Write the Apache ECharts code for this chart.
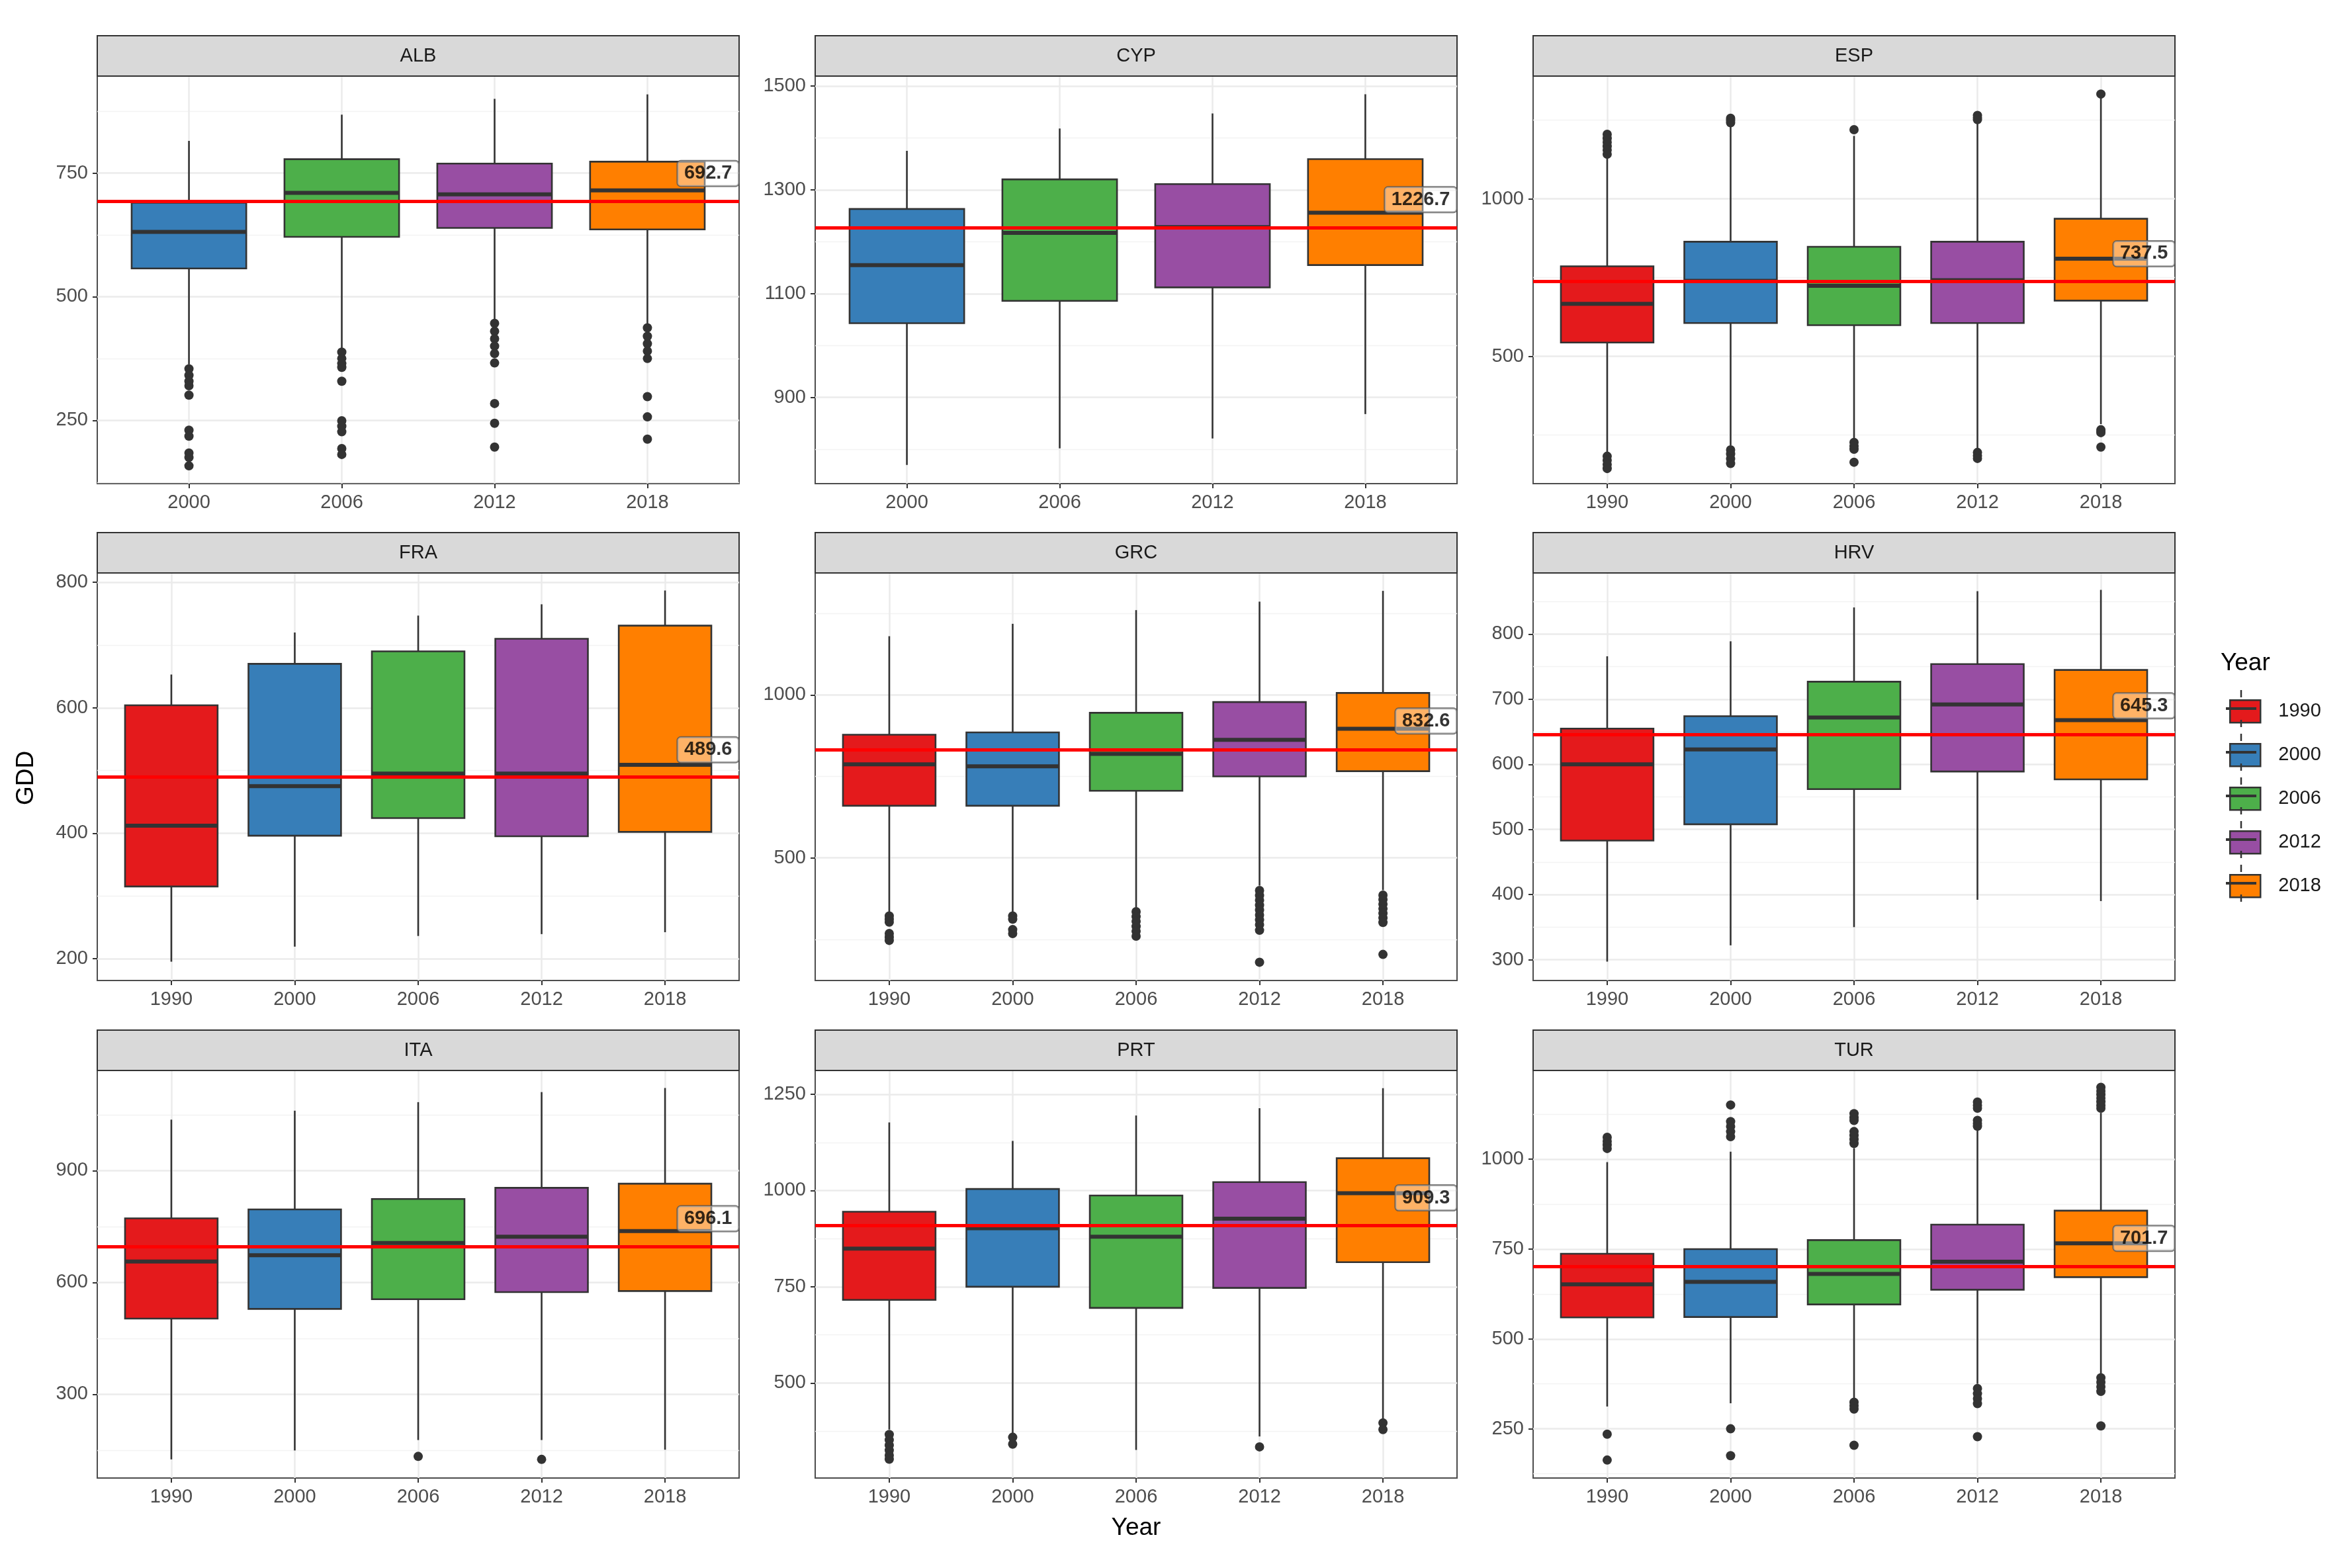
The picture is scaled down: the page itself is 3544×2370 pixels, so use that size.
<!DOCTYPE html>
<html lang="en">
<head>
<meta charset="UTF-8">
<title>GDD by country and year</title>
<script src="https://cdn.jsdelivr.net/npm/echarts@6.0.0/dist/echarts.min.js"></script>
<style>
    html, body { margin: 0; padding: 0; background: #fff; }
    #chart { width: 3544px; height: 2370px; }
</style>
</head>
<body>
<div id="chart"></div>
<script>
// ---- data ----
var countries = ['ALB', 'CYP', 'ESP', 'FRA', 'GRC', 'HRV', 'ITA', 'PRT', 'TUR'];
var allYears = ['1990', '2000', '2006', '2012', '2018'];
var lateYears = ['2000', '2006', '2012', '2018'];

// box = [lower whisker, Q1, median, Q3, upper whisker]
var boxALB = [[363, 557, 631, 690, 815], [394, 621, 710, 778, 868], [449, 639, 707, 769, 900], [440, 636, 715, 773, 909]];
var boxCYP = [[770, 1043, 1155, 1263, 1375], [802, 1086, 1217, 1320, 1418], [821, 1112, 1228, 1311, 1447], [868, 1155, 1256, 1359, 1484]];
var boxESP = [[195, 544, 667, 786, 1135], [217, 606, 740, 864, 1232], [241, 599, 724, 848, 1200], [205, 606, 742, 864, 1240], [285, 677, 810, 937, 1322]];
var boxFRA = [[195, 315, 412, 604, 653], [219, 396, 475, 670, 720], [236, 424, 495, 690, 747], [239, 395, 495, 710, 765], [242, 402, 509, 731, 787]];
var boxGRC = [[334, 660, 787, 878, 1180], [334, 660, 781, 885, 1218], [348, 706, 819, 945, 1260], [415, 750, 862, 978, 1286], [401, 766, 896, 1006, 1319]];
var boxHRV = [[297, 483, 600, 655, 766], [322, 508, 623, 674, 789], [350, 562, 672, 727, 841], [392, 589, 692, 754, 866], [390, 577, 668, 745, 868]];
var boxITA = [[125, 503, 656, 772, 1037], [149, 529, 673, 796, 1061], [177, 555, 706, 824, 1084], [177, 574, 723, 854, 1111], [151, 577, 738, 865, 1122]];
var boxPRT = [[379, 716, 849, 945, 1177], [370, 750, 902, 1004, 1129], [326, 695, 880, 987, 1195], [361, 747, 927, 1022, 1214], [407, 814, 993, 1084, 1266]];
var boxTUR = [[312, 560, 652, 737, 992], [321, 561, 659, 750, 1021], [331, 596, 681, 775, 1031], [375, 637, 715, 818, 1080], [400, 672, 766, 857, 1129]];

// outliers per year
var outALB = [[354, 341, 329, 320, 301, 230, 218, 184, 175, 158], [388, 375, 365, 357, 329, 249, 238, 227, 193, 181], [446, 430, 415, 400, 385, 366, 284, 244, 196], [437, 420, 405, 390, 375, 298, 257, 212]];
var outCYP = [[], [], [], []];
var outESP = [[1205, 1192, 1180, 1167, 1155, 1142, 183, 170, 157, 144], [1256, 1249, 1242, 203, 190, 175, 160], [1220, 227, 215, 205, 164], [1265, 1258, 1252, 195, 185, 176], [1333, 267, 262, 258, 212]];
var outFRA = [[], [], [], [], []];
var outGRC = [[322, 312, 303, 268, 257, 247], [322, 312, 280, 268], [335, 320, 305, 290, 275, 260], [400, 385, 370, 355, 340, 325, 310, 295, 278, 180], [386, 372, 358, 344, 330, 316, 302, 204]];
var outHRV = [[], [], [], [], []];
var outITA = [[], [], [133], [125], []];
var outPRT = [[366, 352, 338, 325, 312, 302], [359, 341], [], [334], [396, 379]];
var outTUR = [[1061, 1050, 1040, 1030, 235, 163], [1151, 1105, 1091, 1077, 1063, 250, 175], [1127, 1116, 1108, 1077, 1066, 1055, 1044, 324, 314, 305, 204], [1159, 1150, 1142, 1108, 1100, 1092, 362, 348, 334, 320, 228], [1200, 1190, 1180, 1170, 1160, 1150, 1142, 392, 380, 367, 354, 258]];

var meanGDD = [692.7, 1226.7, 737.5, 489.6, 832.6, 645.3, 696.1, 909.3, 701.7];
var labelY = [749, 1281, 826, 533, 920, 690, 771, 981, 780];

var yMin = [122, 734, 96, 165, 124, 268, 75, 253, 113];
var yMax = [946, 1519, 1390, 815, 1374, 894, 1169, 1312, 1247];
var yTicks = [[250, 500, 750], [900, 1100, 1300, 1500], [500, 1000], [200, 400, 600, 800], [500, 1000],
    [300, 400, 500, 600, 700, 800], [300, 600, 900], [500, 750, 1000, 1250], [250, 500, 750, 1000]];
var yMinor = [[125, 375, 625, 875], [800, 1000, 1200, 1400], [250, 750, 1250], [300, 500, 700], [250, 750, 1250],
    [350, 450, 550, 650, 750, 850], [150, 450, 750, 1050], [375, 625, 875, 1125], [125, 375, 625, 875, 1125]];

var boxes = [boxALB, boxCYP, boxESP, boxFRA, boxGRC, boxHRV, boxITA, boxPRT, boxTUR];
var outliers = [outALB, outCYP, outESP, outFRA, outGRC, outHRV, outITA, outPRT, outTUR];
var countryYears = [lateYears, lateYears, allYears, allYears, allYears, allYears, allYears, allYears, allYears];

var yearColor = {'1990': '#E41A1C', '2000': '#377EB8', '2006': '#4DAF4A', '2012': '#984EA3', '2018': '#FF7F00'};

// ---- layout ----
var font = '"Liberation Sans", Arial, sans-serif';
var colLeft = [147, 1232, 2317];
var rowTop = [115, 866, 1618];
var panelW = 970, panelH = 616, stripH = 61;

function renderBox(params, api) {
    var x = api.value(0);
    var lo = api.coord([x, api.value(1)]);
    var q1 = api.coord([x, api.value(2)]);
    var md = api.coord([x, api.value(3)]);
    var q3 = api.coord([x, api.value(4)]);
    var hi = api.coord([x, api.value(5)]);
    var half = api.size([0.75, 0])[0] / 2;
    return {
        type: 'group',
        children: [
            {type: 'line', shape: {x1: lo[0], y1: lo[1], x2: q1[0], y2: q1[1]}, style: {stroke: '#333', lineWidth: 2.6}},
            {type: 'line', shape: {x1: q3[0], y1: q3[1], x2: hi[0], y2: hi[1]}, style: {stroke: '#333', lineWidth: 2.6}},
            {type: 'rect', shape: {x: q1[0] - half, y: q3[1], width: half * 2, height: q1[1] - q3[1]},
                style: {fill: api.visual('color'), stroke: '#333', lineWidth: 2.6}},
            {type: 'line', shape: {x1: md[0] - half, y1: md[1], x2: md[0] + half, y2: md[1]}, style: {stroke: '#333', lineWidth: 6}}
        ]
    };
}

var grids = [], xAxes = [], yAxes = [], series = [], graphics = [];

countries.forEach(function (c, i) {
    var col = i % 3, row = Math.floor(i / 3);
    var yrs = countryYears[i];
    var n = yrs.length;
    var xTicks = yrs.map(function (y, k) { return k + 1; });
    var left = colLeft[col], top = rowTop[row];

    grids.push({
        left: left, top: top, width: panelW, height: panelH,
        show: true, borderColor: '#4d4d4d', borderWidth: 2, outerBoundsMode: 'none'
    });

    xAxes.push({
        gridIndex: i, type: 'value', min: 0.4, max: n + 0.6,
        axisLine: {show: false},
        axisTick: {show: true, length: 7, customValues: xTicks, lineStyle: {color: '#333', width: 2}},
        axisLabel: {
            customValues: xTicks, margin: 14, color: '#4d4d4d', fontSize: 29, fontFamily: font,
            formatter: function (v) { return yrs[Math.round(v) - 1]; }
        },
        splitLine: {show: true, lineStyle: {color: '#ebebeb', width: 2.5}}
    });

    // major ticks and labels
    yAxes.push({
        gridIndex: i, type: 'value', min: yMin[i], max: yMax[i],
        axisLine: {show: false},
        axisTick: {show: true, length: 7, customValues: yTicks[i], lineStyle: {color: '#333', width: 2}},
        axisLabel: {
            customValues: yTicks[i], margin: 14, color: '#4d4d4d', fontSize: 29, fontFamily: font,
            formatter: function (v) { return String(v); }
        },
        splitLine: {show: true, lineStyle: {color: '#ebebeb', width: 2.5}}
    });
    // minor grid lines
    yAxes.push({
        gridIndex: i, type: 'value', min: yMin[i], max: yMax[i],
        axisLine: {show: false},
        axisTick: {show: false, customValues: yMinor[i]},
        axisLabel: {show: false},
        splitLine: {show: true, lineStyle: {color: '#f3f3f3', width: 1.4}}
    });

    yrs.forEach(function (yr, k) {
        series.push({
            type: 'custom', name: yr,
            xAxisIndex: i, yAxisIndex: 2 * i,
            itemStyle: {color: yearColor[yr]},
            renderItem: renderBox,
            encode: {x: 0, y: [1, 2, 3, 4, 5]},
            data: [[k + 1].concat(boxes[i][k])],
            z: 2, silent: true
        });
    });

    var pts = [];
    outliers[i].forEach(function (list, k) {
        list.forEach(function (v) { pts.push([k + 1, v]); });
    });
    series.push({
        type: 'scatter', name: 'outliers ' + c,
        xAxisIndex: i, yAxisIndex: 2 * i,
        symbolSize: 14, itemStyle: {color: '#333', opacity: 1},
        data: pts, z: 3, silent: true,
        markLine: {
            silent: true, symbol: ['none', 'none'], label: {show: false},
            lineStyle: {color: '#ff0000', width: 5, type: 'solid', opacity: 1},
            emphasis: {disabled: true},
            data: [{yAxis: meanGDD[i]}]
        }
    });

    series.push({
        type: 'scatter', name: 'mean ' + c,
        xAxisIndex: i, yAxisIndex: 2 * i,
        symbolSize: 1, itemStyle: {color: 'rgba(0,0,0,0)'},
        data: [[n + 0.6, labelY[i], meanGDD[i]]],
        z: 10, silent: true,
        label: {
            show: true, position: 'left', distance: 0,
            formatter: function (p) { return p.value[2].toFixed(1); },
            fontFamily: font, fontSize: 29, fontWeight: 'bold', color: '#000',
            backgroundColor: 'rgba(255,255,255,0.5)', borderColor: '#555', borderWidth: 1.5,
            borderRadius: 5, padding: [5, 10, 4, 10]
        }
    });

    // facet strip
    graphics.push({
        type: 'rect', z: 5,
        shape: {x: left, y: top - stripH, width: panelW, height: stripH},
        style: {fill: '#d9d9d9', stroke: '#333', lineWidth: 2}
    });
    graphics.push({
        type: 'text', z: 6, x: left + panelW / 2, y: top - stripH / 2,
        style: {text: c, align: 'center', verticalAlign: 'middle', font: '29px ' + font, fill: '#1a1a1a'}
    });
});

// axis titles and legend title
graphics.push({
    type: 'text', x: 40, y: 1176, rotation: Math.PI / 2,
    style: {text: 'GDD', align: 'center', verticalAlign: 'middle', font: '37px ' + font, fill: '#000'}
});
graphics.push({
    type: 'text', x: 1717, y: 2310,
    style: {text: 'Year', align: 'center', verticalAlign: 'middle', font: '37px ' + font, fill: '#000'}
});
graphics.push({
    type: 'text', x: 3356, y: 1003,
    style: {text: 'Year', align: 'left', verticalAlign: 'middle', font: '37px ' + font, fill: '#000'}
});

// whiskers and medians on the legend keys
var keyTop = 1052, keyStep = 66;
allYears.forEach(function (yr, k) {
    var cy = keyTop + 19 + k * keyStep, cx = 3387;
    graphics.push({type: 'line', z: 20, shape: {x1: cx, y1: cy - 28, x2: cx, y2: cy - 17}, style: {stroke: '#333', lineWidth: 2.5}});
    graphics.push({type: 'line', z: 20, shape: {x1: cx, y1: cy + 17, x2: cx, y2: cy + 28}, style: {stroke: '#333', lineWidth: 2.5}});
    graphics.push({type: 'line', z: 20, shape: {x1: 3364, y1: cy, x2: 3410, y2: cy}, style: {stroke: '#333', lineWidth: 4}});
});

var myChart = echarts.init(document.getElementById('chart'));
myChart.setOption({
    backgroundColor: '#fff',
    animation: false,
    grid: grids,
    xAxis: xAxes,
    yAxis: yAxes,
    legend: {
        data: allYears, orient: 'vertical', left: 3364, top: keyTop,
        itemWidth: 46, itemHeight: 34, itemGap: 29.5, icon: 'rect', selectedMode: false,
        itemStyle: {borderColor: '#333', borderWidth: 2.5},
        textStyle: {fontSize: 29, color: '#1a1a1a', fontFamily: font, padding: [0, 0, 0, 22]}
    },
    graphic: graphics,
    series: series
});
</script>
</body>
</html>
